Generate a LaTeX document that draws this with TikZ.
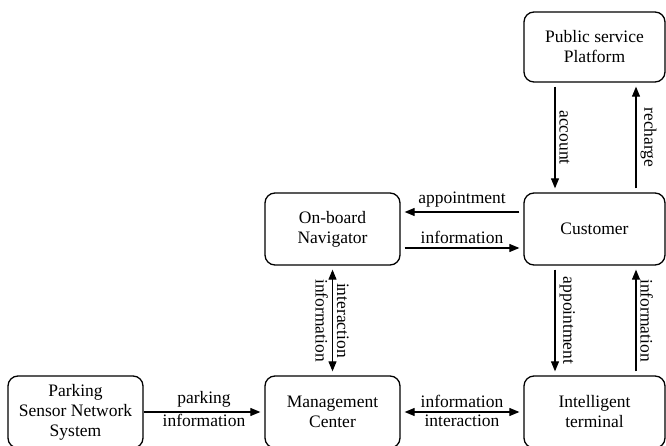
\documentclass[tikz,border=0pt]{standalone}
\usepackage{fontspec}
\setmainfont{Liberation Serif}
\usetikzlibrary{arrows.meta}
\begin{document}
\begin{tikzpicture}[x=1pt, y=-1pt,
  box/.style={draw, rounded corners=10pt, line width=1.3pt, minimum width=135pt,
    minimum height=72pt, align=center, font=\fontsize{17.5}{20}\selectfont},
  arr/.style={-{Triangle[length=10pt,width=8pt]}, line width=1.1pt,
    shorten >=4pt, shorten <=4pt},
  darr/.style={arr, {Triangle[length=10pt,width=8pt]}-{Triangle[length=10pt,width=8pt]}},
  lab/.style={font=\fontsize{17.5}{20}\selectfont, inner sep=4pt},
  vlab/.style={lab, rotate=-90}]
  \useasboundingbox (0,0) rectangle (666,446);
  % boxes
  \node[box, minimum width=141pt, minimum height=70pt] (platform) at (594.5,47) {Public service\\Platform};
  \node[box, minimum width=141pt] (customer) at (594.5,229) {Customer};
  \node[box] (navigator) at (332.5,229) {On-board\\Navigator};
  \node[box] (management) at (332.5,412) {Management\\Center};
  \node[box, minimum width=141pt] (terminal) at (594.5,412) {Intelligent\\terminal};
  \node[box] (parking) at (75.5,412) {Parking\\Sensor Network\\System};
  % connectors
  \draw[arr] ([xshift=-39.5pt]platform.south) -- node[vlab, anchor=south] {account} ([xshift=-39.5pt]customer.north);
  \draw[arr] ([xshift=41.5pt]customer.north) -- node[vlab, anchor=south] {recharge} ([xshift=41.5pt]platform.south);
  \draw[arr] ([yshift=17pt]customer.west) -- node[lab, above] {appointment} ([yshift=17pt]navigator.east);
  \draw[arr] ([yshift=-19pt]navigator.east) -- node[lab, above] {information} ([yshift=-19pt]customer.west);
  \draw[darr] (navigator) -- node[vlab, anchor=south] {interaction} node[vlab, anchor=north] {information} (management);
  \draw[arr] ([xshift=-39.5pt]customer.south) -- node[vlab, anchor=south] {appointment} ([xshift=-39.5pt]terminal.north);
  \draw[arr] ([xshift=41.5pt]terminal.north) -- node[vlab, anchor=south] {information} ([xshift=41.5pt]customer.south);
  \draw[arr, shorten <=0pt] (parking) -- node[lab, above] {parking} node[lab, below, inner sep=2pt] {information} (management);
  \draw[darr] (management) -- node[lab, above] {information} node[lab, below, inner sep=2pt] {interaction} (terminal);
\end{tikzpicture}
\end{document}
